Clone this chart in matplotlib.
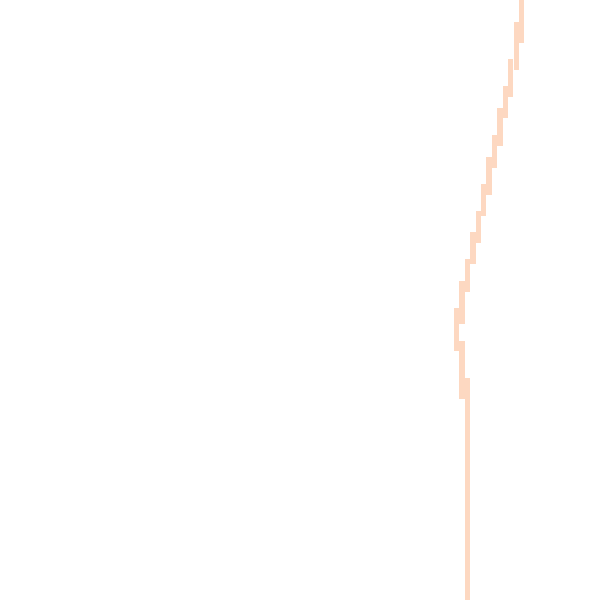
import matplotlib
matplotlib.use("Agg")
import matplotlib.pyplot as plt

# segment centers (x) and vertical spans (top, bottom) in pixel-like data units
seg_x = [521.7, 516.5, 510.7, 505.5, 500.0, 494.5, 489.0, 483.5, 478.5, 473.0, 467.5, 462.0, 456.5, 462.0, 467.5]
seg_top = [0, 22, 59, 86, 108, 135, 157, 184, 211, 232, 259, 281, 308, 341, 378]
seg_bottom = [43, 70, 97, 118, 146, 168, 195, 216, 243, 264, 292, 324, 351, 399, 600]

fig = plt.figure(figsize=(6, 6), dpi=100)
ax = fig.add_axes([0, 0, 1, 1])
heights = [b - t for t, b in zip(seg_top, seg_bottom)]
ax.bar(seg_x, heights, bottom=seg_top, width=5.4, color="#FDD8C1", linewidth=0)
ax.set_xlim(0, 600)
ax.set_ylim(600, 0)
ax.axis("off")
fig.savefig("out.png", dpi=100, facecolor="white")
